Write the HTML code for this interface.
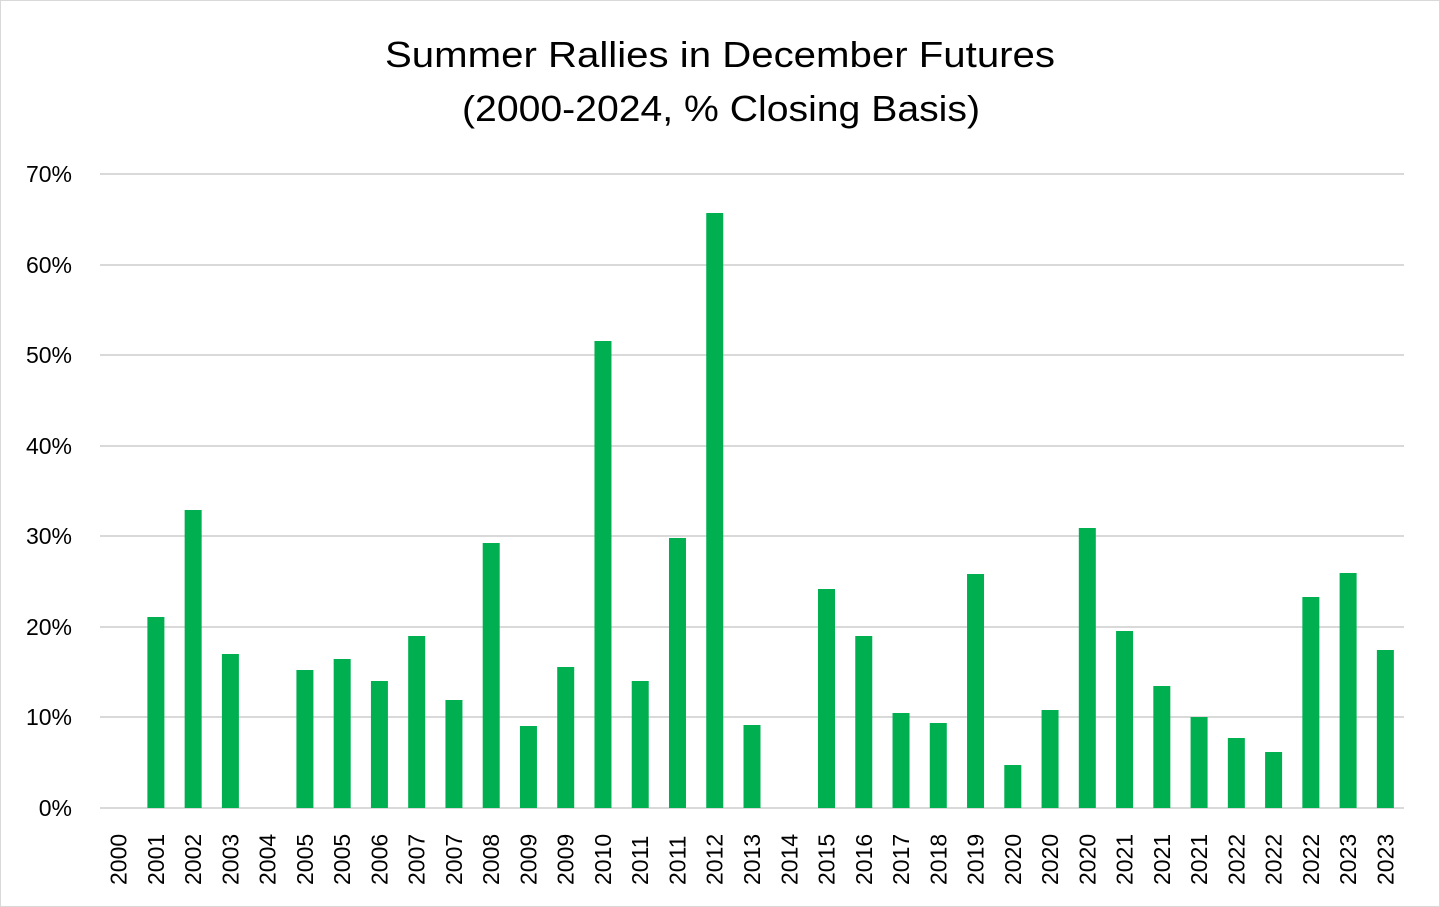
<!DOCTYPE html>
<html><head><meta charset="utf-8"><style>
html,body{margin:0;padding:0;background:#fff;}
svg{display:block;font-family:"Liberation Sans",sans-serif;}
</style></head><body>
<svg width="1440" height="907" viewBox="0 0 1440 907">
<rect x="0.5" y="0.5" width="1439" height="906" fill="#fff" stroke="#d9d9d9"/>
<text x="385" y="67" font-size="36" fill="#000" textLength="670" lengthAdjust="spacingAndGlyphs">Summer Rallies in December Futures</text>
<text x="462" y="121" font-size="36" fill="#000" textLength="518" lengthAdjust="spacingAndGlyphs">(2000-2024, % Closing Basis)</text>
<g stroke="#d9d9d9" stroke-width="2">
<line x1="100" x2="1404" y1="174" y2="174"/><line x1="100" x2="1404" y1="265" y2="265"/>
<line x1="100" x2="1404" y1="355" y2="355"/><line x1="100" x2="1404" y1="446" y2="446"/>
<line x1="100" x2="1404" y1="536" y2="536"/><line x1="100" x2="1404" y1="627" y2="627"/>
<line x1="100" x2="1404" y1="717" y2="717"/><line x1="100" x2="1404" y1="808" y2="808"/>
</g>
<g font-size="23" fill="#000" text-anchor="end">
<text x="72" y="182">70%</text><text x="72" y="273">60%</text><text x="72" y="363">50%</text>
<text x="72" y="454">40%</text><text x="72" y="544">30%</text><text x="72" y="635">20%</text>
<text x="72" y="725">10%</text><text x="72" y="816">0%</text>
</g>
<g id="bars" fill="#00b050"></g>
<g id="lbl" font-size="23" fill="#000"></g>
<script>
var tops=[808,617,510,654,808,670,659,681,636,700,543,726,667,341,681,538,213,725,808,589,636,713,723,574,765,710,528,631,686,717,738,752,597,573,650];
var labs=["2000","2001","2002","2003","2004","2005","2005","2006","2007","2007","2008","2009","2009","2010","2011","2011","2012","2013","2014","2015","2016","2017","2018","2019","2020","2020","2020","2021","2021","2021","2022","2022","2022","2023","2023"];
var b=document.getElementById('bars'),l=document.getElementById('lbl'),ns="http://www.w3.org/2000/svg";
for(var i=0;i<35;i++){var c=100+37.257*(i+0.5);
if(tops[i]<808){var r=document.createElementNS(ns,'rect');r.setAttribute('x',c-8.5);r.setAttribute('y',tops[i]);r.setAttribute('width',17);r.setAttribute('height',808-tops[i]);b.appendChild(r);}
var t=document.createElementNS(ns,'text');t.setAttribute('transform','translate('+(c+8)+',885) rotate(-90)');t.textContent=labs[i];l.appendChild(t);}
</script>
</svg>
</body></html>
